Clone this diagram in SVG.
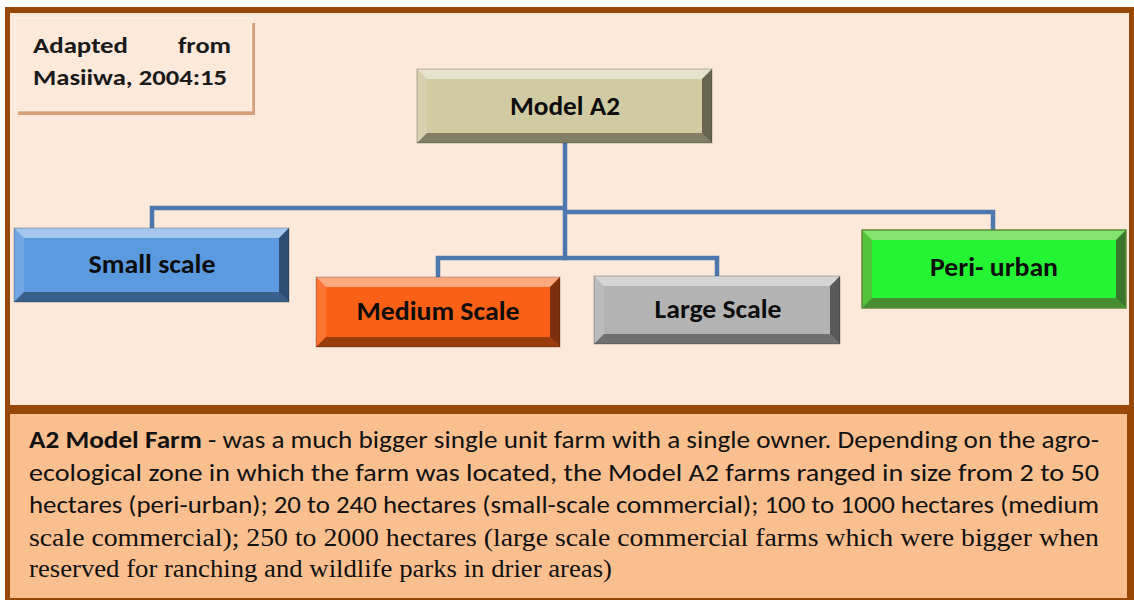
<svg xmlns="http://www.w3.org/2000/svg" width="1134" height="600" viewBox="0 0 1134 600">
<style>
.cal{font-family:Carlito,Lato,"Liberation Sans",sans-serif;fill:#1a1a1a;font-weight:bold;font-size:23px}
.lbl{font-family:Carlito,Lato,"Liberation Sans",sans-serif;font-weight:bold;font-size:27px;fill:#0d0d0d;text-anchor:middle}
.body{font-family:Carlito,Lato,"Liberation Sans",sans-serif;font-size:24px;fill:#111}
.serif{font-family:"Liberation Serif","Times New Roman",serif;font-size:25.5px;fill:#111}
.bt{fill:#fff;opacity:.45}
.bl{fill:#fff;opacity:.12}
.br{fill:#000;opacity:.5}
.bb{fill:#000;opacity:.38}
.edge{fill:none;stroke:#000;stroke-opacity:.25;stroke-width:1}
.conn path{fill:none;stroke:#4C78AF;stroke-width:4.5;stroke-linejoin:miter}
</style>
<rect x="0" y="0" width="1134" height="600" fill="#fff"/>
<rect x="5" y="7" width="1129" height="593" fill="#984806"/>
<rect x="10" y="13" width="1119" height="392" fill="#FDE9D9"/>
<rect x="10" y="414" width="1117" height="184" fill="#FABF8F"/>

<g id="source">
<rect x="18" y="23" width="237" height="92" fill="#D69E76"/>
<rect x="15" y="18" width="237" height="93" fill="#FDE9D9" stroke="#fff" stroke-opacity=".5" stroke-width="1"/>
<text class="cal" x="33" y="53" textLength="95" lengthAdjust="spacingAndGlyphs">Adapted</text>
<text class="cal" x="178" y="53" textLength="53" lengthAdjust="spacingAndGlyphs">from</text>
<text class="cal" x="33" y="85" textLength="194" lengthAdjust="spacingAndGlyphs">Masiiwa, 2004:15</text>
</g>

<g class="conn" id="connectors">
<path d="M565,143 V258"/>
<path d="M567,208 H152 V229"/>
<path d="M563,212 H993 V231"/>
<path d="M567,258 H438 V278"/>
<path d="M563,258 H717 V277"/>
</g>

<g id="model-a2">
<rect x="417" y="69" width="295" height="74" fill="#D1CBA3"/>
<polygon class="bt" points="417,69 712,69 702,79 427,79"/>
<polygon class="bl" points="417,69 427,79 427,133 417,143"/>
<polygon class="br" points="712,69 712,143 702,133 702,79"/>
<polygon class="bb" points="417,143 712,143 702,133 427,133"/>
<rect class="edge" x="417" y="69" width="295" height="74"/>
<text class="lbl" x="565" y="115" textLength="110" lengthAdjust="spacingAndGlyphs">Model A2</text>
</g>

<g id="small-scale">
<rect x="14" y="228" width="275" height="74" fill="#5C9AE0"/>
<polygon class="bt" points="14,228 289,228 279,238 24,238"/>
<polygon class="bl" points="14,228 24,238 24,292 14,302"/>
<polygon class="br" points="289,228 289,302 279,292 279,238"/>
<polygon class="bb" points="14,302 289,302 279,292 24,292"/>
<rect class="edge" x="14" y="228" width="275" height="74"/>
<text class="lbl" x="152" y="273" textLength="127" lengthAdjust="spacingAndGlyphs">Small scale</text>
</g>

<g id="medium-scale">
<rect x="316" y="277" width="244" height="70" fill="#FB6116"/>
<polygon class="bt" points="316,277 560,277 550,287 326,287"/>
<polygon class="bl" points="316,277 326,287 326,337 316,347"/>
<polygon class="br" points="560,277 560,347 550,337 550,287"/>
<polygon class="bb" points="316,347 560,347 550,337 326,337"/>
<rect class="edge" x="316" y="277" width="244" height="70"/>
<text class="lbl" x="438" y="320" textLength="163" lengthAdjust="spacingAndGlyphs">Medium Scale</text>
</g>

<g id="large-scale">
<rect x="594" y="276" width="246" height="68" fill="#B3B3B3"/>
<polygon class="bt" points="594,276 840,276 830,286 604,286"/>
<polygon class="bl" points="594,276 604,286 604,334 594,344"/>
<polygon class="br" points="840,276 840,344 830,334 830,286"/>
<polygon class="bb" points="594,344 840,344 830,334 604,334"/>
<rect class="edge" x="594" y="276" width="246" height="68"/>
<text class="lbl" x="718" y="318" textLength="127" lengthAdjust="spacingAndGlyphs">Large Scale</text>
</g>

<g id="peri-urban">
<rect x="862" y="230" width="264" height="78" fill="#24F433"/>
<polygon class="bt" points="862,230 1126,230 1116,240 872,240" fill="#B8F0A0" style="fill:#9EE07E;opacity:.8"/>
<polygon class="bl" points="862,230 872,240 872,298 862,308" style="fill:#6FA040;opacity:.6"/>
<polygon class="br" points="1126,230 1126,308 1116,298 1116,240" style="fill:#3E5F2A;opacity:.85"/>
<polygon class="bb" points="862,308 1126,308 1116,298 872,298" style="fill:#4E7A33;opacity:.85"/>
<rect x="862" y="230" width="264" height="78" fill="none" stroke="#5E8A3A" stroke-width="1.5"/>
<text class="lbl" x="994" y="276" textLength="128" lengthAdjust="spacingAndGlyphs">Peri- urban</text>
</g>

<g id="description">
<text class="body" x="29" y="448" textLength="1070" lengthAdjust="spacingAndGlyphs"><tspan font-weight="bold">A2 Model Farm</tspan> - was a much bigger single unit farm with a single owner. Depending on the agro-</text>
<text class="body" x="29" y="481" textLength="1070" lengthAdjust="spacingAndGlyphs">ecological zone in which the farm was located, the Model A2 farms ranged in size from 2 to 50</text>
<text class="body" x="29" y="513" textLength="1070" lengthAdjust="spacingAndGlyphs">hectares (peri-urban); 20 to 240 hectares (small-scale commercial); 100 to 1000 hectares (medium</text>
<text class="serif" x="29" y="546" textLength="1070" lengthAdjust="spacingAndGlyphs">scale commercial); 250 to 2000 hectares (large scale commercial farms which were bigger when</text>
<text class="serif" x="29" y="577" textLength="583" lengthAdjust="spacingAndGlyphs">reserved for ranching and wildlife parks in drier areas)</text>
</g>
</svg>
